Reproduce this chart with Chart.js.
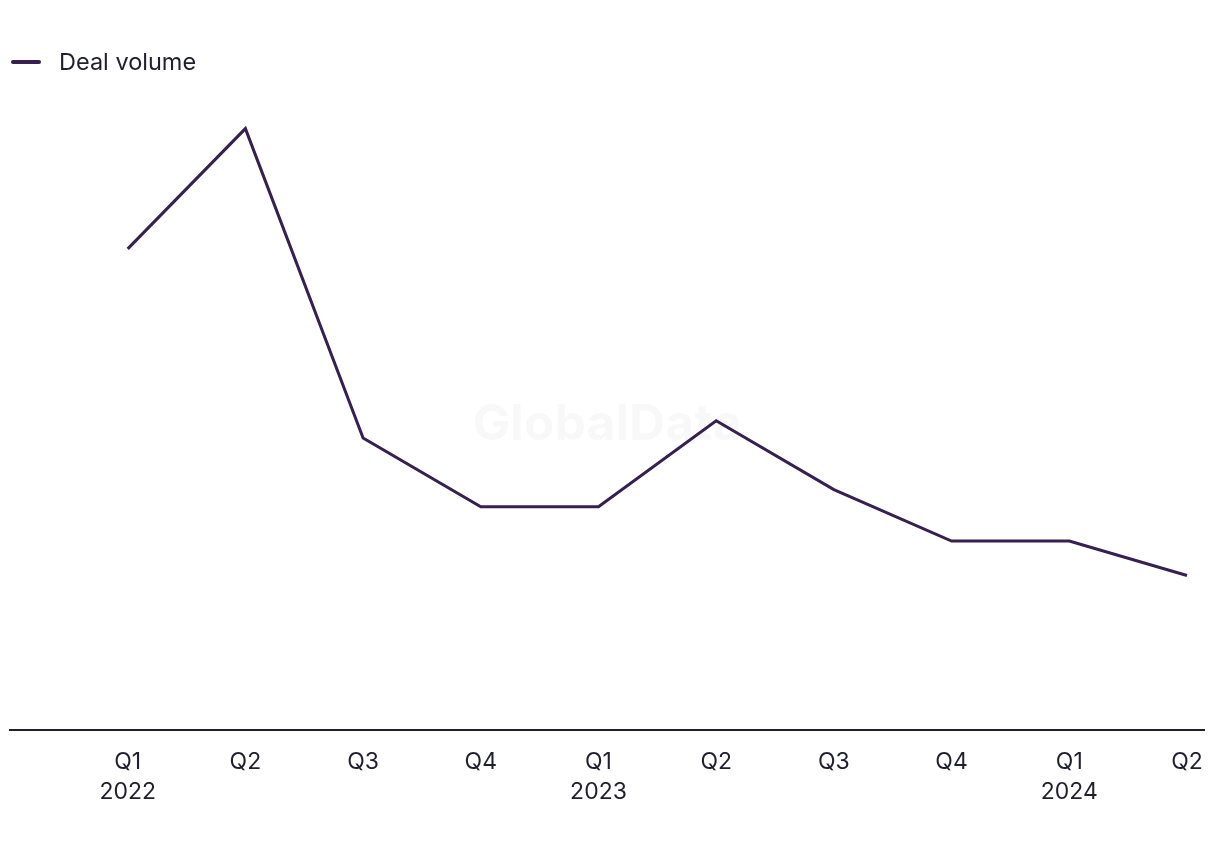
<!DOCTYPE html>
<html>
<head>
<meta charset="utf-8">
<script src="https://cdn.jsdelivr.net/npm/chart.js@4/dist/chart.umd.min.js"></script>
<style>
  html, body { margin: 0; padding: 0; background: #ffffff; }
  #wrap { position: relative; width: 1220px; height: 850px; }
  #legend { position: absolute; left: 11px; top: 47px; display: flex; align-items: center;
            font-family: Inter, "Liberation Sans", sans-serif; font-size: 23.5px; color: #1f1f2e; }
  #legend .sw { width: 30px; height: 4px; border-radius: 2px; background: #36204f; margin-right: 18px; }
</style>
</head>
<body>
<div id="wrap">
  <div id="legend"><span class="sw"></span><span>Deal volume</span></div>
  <canvas id="c" width="1220" height="850"></canvas>
</div>
<script>
const quarters = ['Q1', 'Q2', 'Q3', 'Q4', 'Q1', 'Q2', 'Q3', 'Q4', 'Q1', 'Q2'];
const years = ['2022', '', '', '', '2023', '', '', '', '2024', ''];
const dealVolume = [28, 35, 17, 13, 13, 18, 14, 11, 11, 9];
const seriesName = 'Deal volume';

const points = dealVolume.map((v, i) => ({ x: i, y: v }));

const watermark = {
  id: 'watermark',
  beforeDatasetsDraw(chart) {
    const { ctx, chartArea } = chart;
    ctx.save();
    ctx.font = 'bold 50px Inter, "Liberation Sans", sans-serif';
    ctx.fillStyle = 'rgba(0,0,0,0.028)';
    ctx.textAlign = 'center';
    ctx.textBaseline = 'middle';
    ctx.fillText('GlobalData', (chartArea.left + chartArea.right) / 2, (chartArea.top + chartArea.bottom) / 2);
    ctx.restore();
  }
};

new Chart(document.getElementById('c'), {
  type: 'line',
  data: {
    datasets: [{
      label: seriesName,
      data: points,
      borderColor: '#36204f',
      backgroundColor: '#36204f',
      borderWidth: 3,
      pointRadius: 0,
      tension: 0,
      borderJoinStyle: 'miter'
    }]
  },
  options: {
    responsive: false,
    animation: false,
    layout: { padding: { left: 10, right: 14, top: 120, bottom: 26 } },
    plugins: { legend: { display: false }, tooltip: { enabled: false } },
    scales: {
      x: {
        type: 'linear',
        min: -1,
        max: 9.15,
        afterBuildTicks(scale) {
          scale.ticks = quarters.map((q, i) => ({ value: i }));
        },
        grid: { display: true, drawOnChartArea: false, drawTicks: false, color: 'transparent' },
        border: { display: true, color: '#1f1f2e', width: 2 },
        ticks: {
          autoSkip: false,
          maxRotation: 0,
          padding: 17,
          color: '#1f1f2e',
          font: { family: 'Inter, "Liberation Sans", sans-serif', size: 23, lineHeight: 1.3 },
          callback(value) {
            const i = Math.round(value);
            return years[i] ? [quarters[i], years[i]] : quarters[i];
          }
        }
      },
      y: {
        display: false,
        min: 0,
        max: 35.5
      }
    }
  },
  plugins: [watermark]
});
</script>
</body>
</html>
